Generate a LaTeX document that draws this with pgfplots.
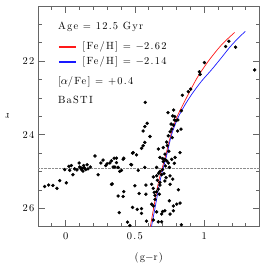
\documentclass[border=0pt]{standalone}
\usepackage{fontspec}
\setmainfont{lmroman10-regular.otf}[LetterSpace=12]
\usepackage{pgfplots}
\pgfplotsset{compat=1.18}
\pgfplotstableread{
x y
1.365 22.24
1.227 21.62
1.179 21.46
1.155 21.60
1.002 22.04
0.966 22.29
0.971 22.36
0.886 22.83
0.903 22.76
0.843 22.93
0.575 23.12
0.836 23.35
0.739 23.40
0.780 23.33
0.773 23.49
0.788 23.51
0.785 23.60
0.810 23.60
0.797 23.62
0.761 23.71
0.778 23.74
0.589 23.69
0.572 23.78
0.560 23.90
0.609 24.05
0.766 23.85
0.754 23.92
0.809 23.90
0.833 23.85
0.741 24.03
0.770 24.08
0.572 24.21
0.560 24.30
0.548 24.37
0.488 24.49
0.512 24.55
0.669 24.39
0.705 24.35
0.734 24.30
0.717 24.53
0.681 24.62
0.700 24.65
0.717 24.67
0.730 24.71
0.705 24.73
0.766 24.67
0.790 24.62
0.826 24.49
0.785 24.78
0.749 24.89
0.657 24.89
0.681 25.00
0.657 25.12
0.693 25.09
0.710 25.06
0.725 25.17
0.633 25.15
0.662 25.24
0.754 25.12
0.773 25.21
0.681 25.30
0.717 25.26
0.745 24.45
0.730 24.20
0.720 24.85
0.700 24.95
0.742 24.77
0.672 25.05
-0.152 25.41
-0.123 25.37
-0.092 25.38
-0.063 25.46
-0.043 25.25
0.005 25.31
-0.007 24.95
0.024 24.86
0.041 24.84
0.029 24.97
0.053 25.09
0.065 24.93
0.082 24.96
0.097 24.77
0.101 24.88
0.114 24.95
0.125 24.99
0.130 24.84
0.145 24.95
0.155 24.82
0.162 24.93
0.179 24.88
0.110 24.90
0.120 24.92
0.135 24.90
0.212 24.58
0.234 25.09
0.254 24.77
0.270 24.69
0.290 24.84
0.300 24.79
0.319 24.77
0.336 25.34
0.350 24.64
0.367 24.64
0.355 24.88
0.420 24.64
0.471 24.81
0.483 24.50
0.415 24.67
0.331 24.71
0.367 24.76
0.476 24.82
0.343 24.88
0.379 24.89
0.403 24.97
0.391 25.00
0.572 24.89
0.524 24.97
0.331 25.35
0.500 25.39
0.580 25.37
0.621 25.35
0.681 25.37
0.754 25.35
0.633 25.46
0.669 25.48
0.657 25.55
0.676 25.62
0.379 25.67
0.420 25.55
0.415 25.68
0.531 25.60
0.580 25.62
0.814 25.50
0.749 25.80
0.778 25.94
0.802 25.89
0.826 25.86
0.483 25.98
0.517 26.03
0.548 26.01
0.387 26.12
0.548 26.14
0.657 26.10
0.700 26.09
0.717 26.07
0.693 26.16
0.778 26.07
0.754 26.16
0.584 26.35
0.669 26.37
0.693 26.37
0.633 26.32
0.836 26.45
0.447 26.38
0.464 26.47
0.621 25.89
0.633 25.94
0.645 25.76
0.640 25.57
0.645 25.65
}\stars
\begin{document}
\begin{tikzpicture}
\begin{axis}[
  scale only axis, width=222bp, height=221bp,
  xmin=-0.2, xmax=1.4, ymin=20.5, ymax=26.5, y dir=reverse,
  xtick={0,0.5,1}, ytick={22,24,26},
  minor xtick={-0.1,0.1,0.2,0.3,0.4,0.6,0.7,0.8,0.9,1.1,1.2,1.3},
  minor ytick={21,21.5,22.5,23,23.5,24.5,25,25.5},
  tick align=inside, major tick length=7bp, minor tick length=4bp,
  axis line style={black!60, line width=0.6pt},
  tick style={black!60, line width=0.6pt},
  /pgf/number format/assume math mode=true,
  font=\fontsize{10.5}{12}\selectfont,
  xticklabel style={yshift=-2bp},
  xlabel={(g$-$r)}, ylabel={r},
  x label style={at={(axis description cs:0.5,-0.14)}, anchor=center},
  y label style={at={(axis description cs:-0.138,0.5)}, anchor=center, rotate=90},
  clip=true,
  legend cell align=left,
  legend image code/.code={\draw[#1, line width=1.4pt] (0bp,0bp) -- (17bp,0bp);},
  legend style={at={(axis description cs:0.09,0.7805)}, anchor=west, draw=none, fill=none, inner sep=0pt,
    row sep=4bp, nodes={inner sep=0pt, text height=8bp, text depth=3bp},
    /tikz/every odd column/.append style={column sep=6bp}},
]
\addplot[black!45, line width=0.35pt, dash pattern=on 0.5pt off 0.9pt, forget plot] coordinates {(-0.2,24.9) (1.4,24.9)};
\addplot[only marks, mark=*, mark size=1.5bp, black, forget plot] table[x=x,y=y] {\stars};
\addplot[red!90!white, line width=0.7pt, smooth] coordinates {(0.612,26.5) (0.64,25.9) (0.676,25.2) (0.72,24.6) (0.76,24.0) (0.80,23.55) (0.845,23.2) (0.886,22.9) (0.95,22.45) (1.019,22.06) (1.08,21.76) (1.14,21.5) (1.22,21.22)};
\addlegendentry{[Fe/H] = $-$2.62}
\addplot[blue!90!white, line width=0.7pt, smooth] coordinates {(0.62,26.5) (0.65,25.9) (0.685,25.2) (0.727,24.6) (0.765,24.0) (0.81,23.55) (0.86,23.2) (0.911,22.9) (0.98,22.55) (1.05,22.25) (1.12,21.93) (1.19,21.6) (1.245,21.38) (1.297,21.19)};
\addlegendentry{[Fe/H] = $-$2.14}
\node[anchor=west, inner sep=0pt] at (axis description cs:0.09,0.905) {Age = 12.5 Gyr};
\node[anchor=west, inner sep=0pt] at (axis description cs:0.09,0.656) {[$\alpha$/Fe] = +0.4};
\node[anchor=west, inner sep=0pt] at (axis description cs:0.09,0.575) {BaSTI};
\end{axis}
\path ([xshift=6bp,yshift=6bp]current axis.north east);
\path ([xshift=-38bp,yshift=-38bp]current axis.south west);
\end{tikzpicture}
\end{document}
